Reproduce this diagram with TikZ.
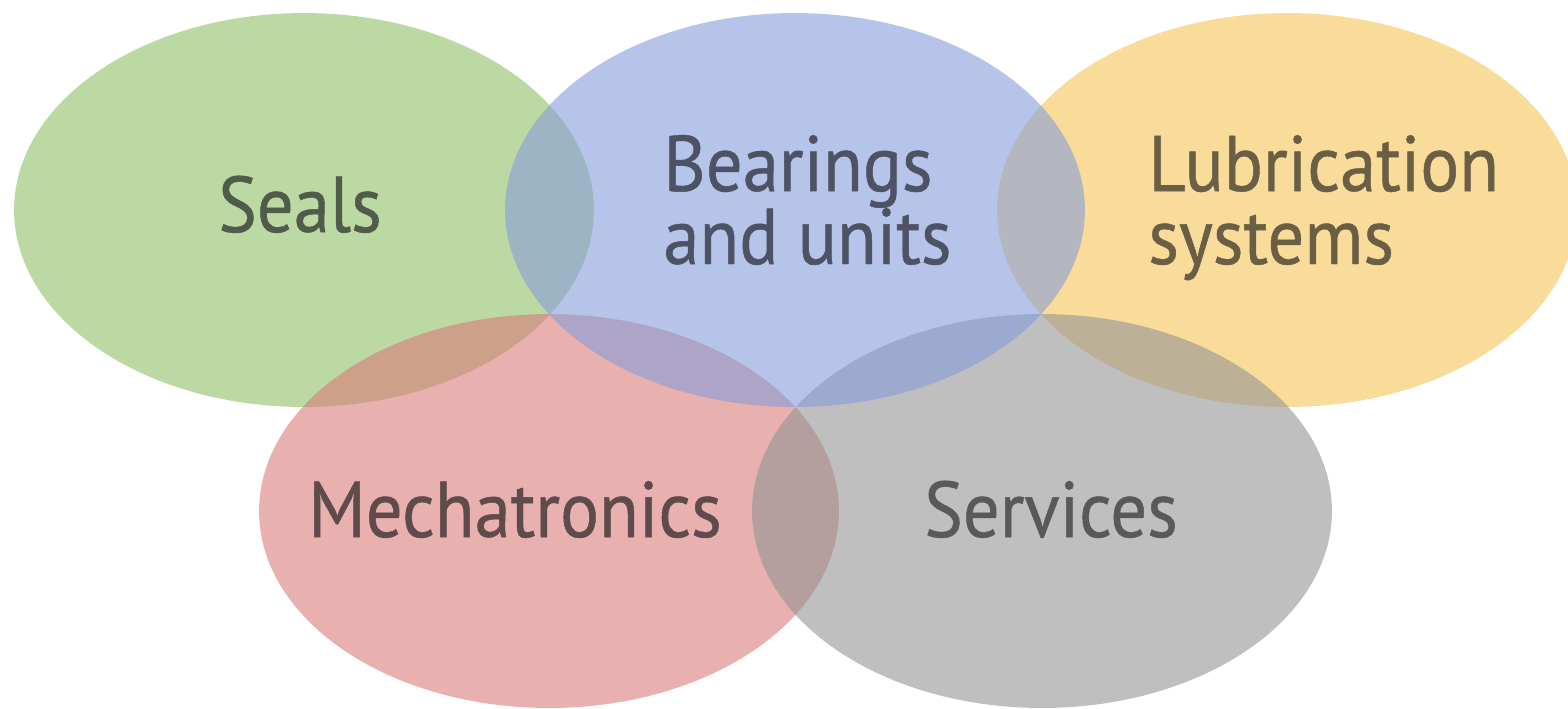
\documentclass[tikz,border=0pt]{standalone}
\usepackage{fontspec}
\setmainfont{PT Sans}[FakeStretch=0.92,FakeBold=0.6]
\usepackage{xcolor}
\usetikzlibrary{shapes.geometric,positioning}

\definecolor{sealsfill}{RGB}{145,192,102}
\definecolor{bearfill}{RGB}{135,157,218}
\definecolor{lubfill}{RGB}{245,197,87}
\definecolor{mechfill}{RGB}{217,123,122}
\definecolor{servfill}{RGB}{148,148,148}
\definecolor{sealstext}{RGB}{81,91,73}
\definecolor{beartext}{RGB}{77,82,100}
\definecolor{lubtext}{RGB}{106,94,69}
\definecolor{mechtext}{RGB}{95,75,75}
\definecolor{servtext}{RGB}{89,89,89}

\begin{document}
\begin{tikzpicture}[x=0.02cm,y=-0.02cm]
    \tikzstyle{blob} = [ellipse, minimum width=11.6cm, minimum height=7.88cm,
               inner sep=0pt, fill opacity=0.6]
    \tikzstyle{topic} = [inner sep=0pt, align=left,
               font=\fontsize{45}{41.5}\selectfont]

    \useasboundingbox (0,0) rectangle (1568,708);

    % Ellipses, back to front
    \node [blob, fill=sealsfill] (seals) at (304,210) {};
    \node [blob, fill=lubfill] (lub) at (1287,210) {};
    \node [blob, fill=mechfill] (mech) at (549,511) {};
    \node [blob, fill=servfill] (serv) at (1042,511) {};
    \node [blob, fill=bearfill] (bear) at (795,210) {};

    % Labels
    \node [topic, anchor=base, text=sealstext] (sealslabel) at (300,232) {Seals};
    \node [topic, anchor=base west, text=beartext] (bearlabel) at (663,264) {Bearings\\and units};
    \node [topic, anchor=base west, text=lubtext] (lublabel) at (1148,264) {Lubrication\\systems};
    \node [topic, anchor=base, text=mechtext] (mechlabel) at (515,537) {Mechatronics};
    \node [topic, anchor=base, text=servtext] (servlabel) at (1051,537) {Services};
\end{tikzpicture}
\end{document}
